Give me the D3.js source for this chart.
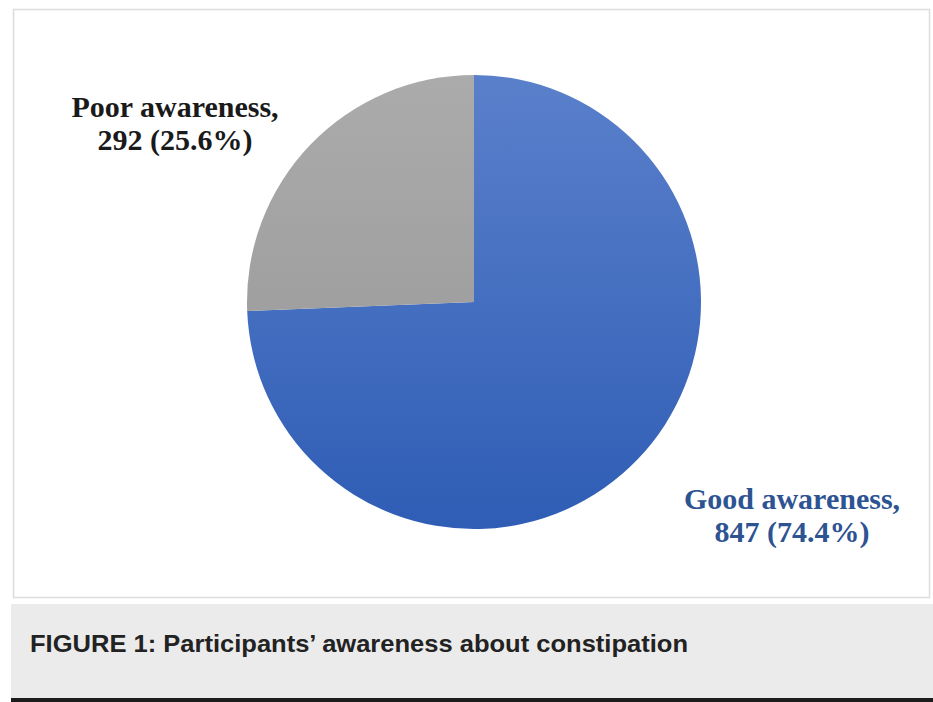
<!DOCTYPE html>
<html>
<head>
<meta charset="utf-8">
<style>
  body { margin: 0; background: #fff; }
  svg { display: block; }
</style>
</head>
<body>
<svg id="chart" width="933" height="702"></svg>
<script src="https://d3js.org/d3.v7.min.js"></script>
<script>
  // data
  const categories = ['Good awareness', 'Poor awareness'];
  const counts = [847, 292];
  const percents = ['74.4%', '25.6%'];
  const caption = 'FIGURE 1: Participants\u2019 awareness about constipation';

  const svg = d3.select('#chart');

  // outer frame
  svg.append('rect')
    .attr('x', 13.5).attr('y', 9.5)
    .attr('width', 916).attr('height', 588)
    .attr('fill', '#fff')
    .attr('stroke', '#dcdcdc')
    .attr('stroke-width', 1.5);

  // caption band
  svg.append('rect')
    .attr('x', 11).attr('y', 604)
    .attr('width', 922).attr('height', 95)
    .attr('fill', '#ebebeb');
  svg.append('rect')
    .attr('x', 11).attr('y', 698)
    .attr('width', 922).attr('height', 4)
    .attr('fill', '#1c1c1c');
  svg.append('text')
    .attr('x', 30).attr('y', 652)
    .attr('font-family', 'Liberation Sans, Arial, sans-serif')
    .attr('font-weight', 'bold')
    .attr('font-size', 24)
    .attr('textLength', 658)
    .attr('lengthAdjust', 'spacingAndGlyphs')
    .attr('fill', '#222')
    .text(caption);

  // gradients
  const defs = svg.append('defs');
  const grads = [
    {id: 'gBlue', top: '#5a80cb', bottom: '#2f5db5'},
    {id: 'gGray', top: '#ababab', bottom: '#959595'}
  ];
  grads.forEach(g => {
    const lg = defs.append('linearGradient')
      .attr('id', g.id)
      .attr('gradientUnits', 'userSpaceOnUse')
      .attr('x1', 0).attr('y1', -227).attr('x2', 0).attr('y2', 227);
    lg.append('stop').attr('offset', '0%').attr('stop-color', g.top);
    lg.append('stop').attr('offset', '100%').attr('stop-color', g.bottom);
  });
  const fills = ['url(#gBlue)', 'url(#gGray)'];

  const cx = 474, cy = 302, r = 227;
  const pie = d3.pie().sort(null).value(d => d);
  const arc = d3.arc().innerRadius(0).outerRadius(r);

  const g = svg.append('g').attr('transform', `translate(${cx},${cy})`);
  g.selectAll('path')
    .data(pie(counts))
    .join('path')
    .attr('d', arc)
    .attr('fill', (d, i) => fills[i]);

  // labels
  const labels = [
    {x: 792, y: 509, color: '#2d5392'},
    {x: 175, y: 117, color: '#1a1a1a'}
  ];
  categories.forEach((c, i) => {
    const t = svg.append('text')
      .attr('text-anchor', 'middle')
      .attr('font-family', 'Liberation Serif, Times New Roman, serif')
      .attr('font-weight', 'bold')
      .attr('font-size', 30)
      .attr('fill', labels[i].color);
    t.append('tspan').attr('x', labels[i].x).attr('y', labels[i].y).text(c + ',');
    t.append('tspan').attr('x', labels[i].x).attr('y', labels[i].y + 33)
      .text(`${counts[i]} (${percents[i]})`);
  });
</script>
</body>
</html>
